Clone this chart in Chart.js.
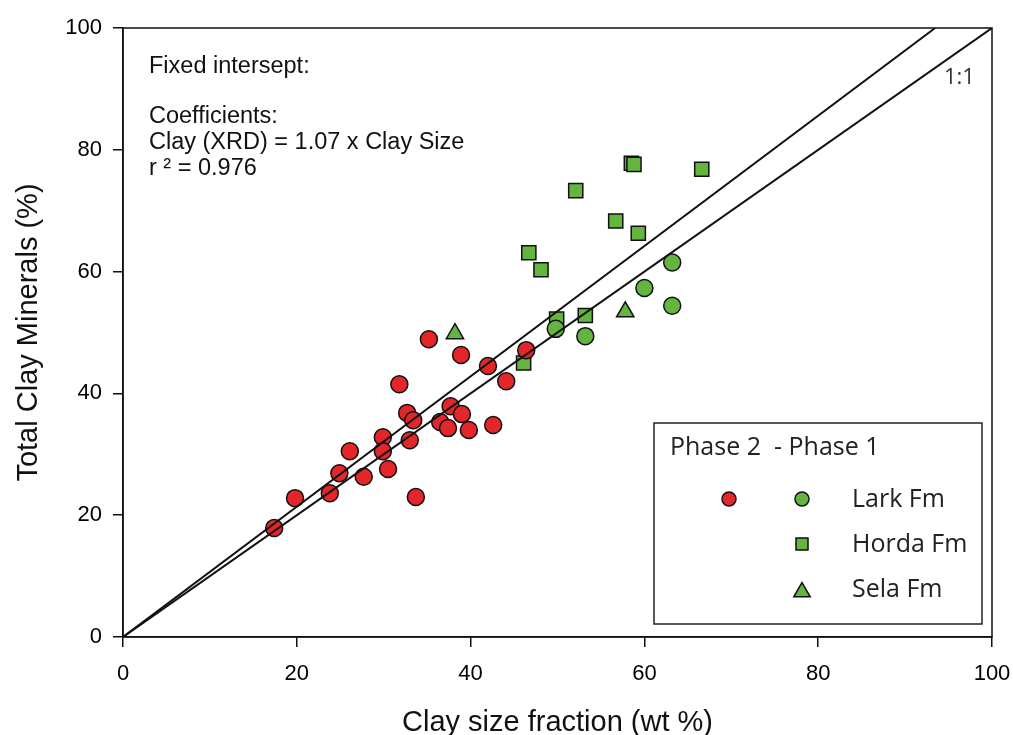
<!DOCTYPE html>
<html>
<head>
<meta charset="utf-8">
<script src="https://cdn.jsdelivr.net/npm/chart.js@4.4.1/dist/chart.umd.min.js"></script>
<style>
  body { margin: 0; background: #fff; }
  #wrap { width: 1013px; height: 735px; }
</style>
</head>
<body>
<div id="wrap"><canvas id="graficoArgila" width="1013" height="735"></canvas></div>
<script>
// Phase 2 (red circles)
const fase2X = [17.4, 19.8, 23.8, 24.9, 26.1, 27.7, 29.9, 29.9, 30.5, 31.8, 32.7, 33.0, 33.4, 33.7, 35.2, 36.5, 37.7, 37.4, 38.9, 39.0, 39.8, 42.0, 42.6, 44.1, 46.4];
const fase2Y = [17.9, 22.8, 23.6, 26.9, 30.5, 26.3, 32.8, 30.5, 27.6, 41.5, 36.8, 32.3, 35.6, 23.0, 48.9, 35.3, 37.9, 34.3, 46.3, 36.6, 34.0, 44.5, 34.8, 42.0, 47.1];
// Phase 1
const larkX = [49.8, 53.2, 60.0, 63.2, 63.2];
const larkY = [50.6, 49.4, 57.3, 61.5, 54.4];
const hordaX = [46.1, 46.7, 48.1, 49.9, 53.2, 52.1, 56.7, 59.3, 58.5, 58.8, 66.6];
const hordaY = [45.0, 63.1, 60.3, 52.2, 52.8, 73.3, 68.3, 66.3, 77.8, 77.6, 76.8];
const selaX = [38.2, 57.8];
const selaY = [49.8, 53.4];

const inclinacao = 1.07;
const ticksEixo = [0, 20, 40, 60, 80, 100];
const textoAjuste = ['Fixed intersept:', '', 'Coefficients:', 'Clay (XRD) = 1.07 x Clay Size', 'r \u00b2 = 0.976'];
const legendaTitulo = 'Phase 2  - Phase 1';
const legendaNomes = ['Lark Fm', 'Horda Fm', 'Sela Fm'];

const VERMELHO = '#e3262a';
const VERDE = '#63b540';

function pontos(xs, ys) {
    return xs.map((x, i) => ({ x: x, y: ys[i] }));
}

const plugExtras = {
    id: 'extras',
    afterDraw(chart) {
        const ctx = chart.ctx;
        const a = chart.chartArea;
        ctx.save();
        ctx.strokeStyle = '#111';
        ctx.lineWidth = 1.5;
        ctx.strokeRect(a.left, a.top, a.right - a.left, a.bottom - a.top);

        // texto do ajuste
        ctx.fillStyle = '#111';
        ctx.font = '23.5px "Liberation Sans", Arial, sans-serif';
        ctx.textBaseline = 'alphabetic';
        ctx.textAlign = 'left';
        const lin = [73, 98, 123, 149, 175];
        textoAjuste.forEach((t, i) => { if (t) ctx.fillText(t, 149, lin[i]); });

        ctx.font = '22px "Open Sans", "Noto Sans", sans-serif';
        ctx.fillStyle = '#333';
        ctx.fillText('1:1', 944, 84);

        // caixa da legenda
        ctx.strokeStyle = '#222';
        ctx.lineWidth = 1.5;
        ctx.strokeRect(654, 423, 328, 201);
        ctx.font = '25px "Open Sans", "Noto Sans", sans-serif';
        ctx.fillStyle = '#222';
        ctx.fillText(legendaTitulo, 670, 455);

        const marcas = [499, 544, 592];
        const bases = [507, 552, 597];
        const estilos = ['circle', 'rect', 'triangle'];
        const raios = [7, 8.5, 9.5];
        ctx.lineWidth = 1.5;
        ctx.strokeStyle = '#111';
        ctx.fillStyle = VERMELHO;
        Chart.helpers.drawPoint(ctx, { pointStyle: 'circle', radius: 7, rotation: 0, borderWidth: 1.5 }, 729, marcas[0]);
        legendaNomes.forEach((nome, i) => {
            ctx.fillStyle = VERDE;
            ctx.strokeStyle = '#111';
            Chart.helpers.drawPoint(ctx, { pointStyle: estilos[i], radius: raios[i], rotation: 0, borderWidth: 1.5 }, 802, marcas[i]);
            ctx.fillStyle = '#222';
            ctx.fillText(nome, 852, bases[i]);
        });
        ctx.restore();
    }
};

const fonteEixo = { family: '"Liberation Sans", Arial, sans-serif', size: 22 };
const fonteTitulo = { family: '"Liberation Sans", Arial, sans-serif', size: 29, lineHeight: 1 };

const grafico = new Chart(document.getElementById('graficoArgila').getContext('2d'), {
    type: 'scatter',
    data: {
        datasets: [
            {
                label: '1:1',
                type: 'line',
                data: [{ x: 0, y: 0 }, { x: 100, y: 100 }],
                borderColor: '#111', borderWidth: 2, pointRadius: 0, order: 0
            },
            {
                label: 'fit',
                type: 'line',
                data: [{ x: 0, y: 0 }, { x: 100 / inclinacao, y: 100 }],
                borderColor: '#111', borderWidth: 2, pointRadius: 0, order: 0
            },
            {
                label: 'Phase 2',
                data: pontos(fase2X, fase2Y),
                pointStyle: 'circle', pointRadius: 8.5,
                backgroundColor: VERMELHO, borderColor: '#111', borderWidth: 1.5, order: 1
            },
            {
                label: 'Lark Fm',
                data: pontos(larkX, larkY),
                pointStyle: 'circle', pointRadius: 8.5,
                backgroundColor: VERDE, borderColor: '#111', borderWidth: 1.5, order: 1
            },
            {
                label: 'Horda Fm',
                data: pontos(hordaX, hordaY),
                pointStyle: 'rect', pointRadius: 10,
                backgroundColor: VERDE, borderColor: '#111', borderWidth: 1.5, order: 1
            },
            {
                label: 'Sela Fm',
                data: pontos(selaX, selaY),
                pointStyle: 'triangle', pointRadius: 10,
                backgroundColor: VERDE, borderColor: '#111', borderWidth: 1.5, order: 1
            }
        ]
    },
    options: {
        responsive: false,
        animation: false,
        layout: { padding: { top: 28, right: 21, left: 0, bottom: 0 } },
        plugins: { legend: { display: false }, tooltip: { enabled: false } },
        scales: {
            x: {
                type: 'linear', min: 0, max: 100,
                afterBuildTicks: s => { s.ticks = ticksEixo.map(v => ({ value: v })); },
                afterFit: s => { s.height = 98; s.paddingLeft = 0; s.paddingRight = 0; },
                grid: { drawOnChartArea: false, tickLength: 10, color: '#111', lineWidth: 1.5 },
                border: { color: '#111', width: 1.5 },
                ticks: { font: fonteEixo, color: '#000', padding: 14, maxRotation: 0 },
                title: { display: true, text: 'Clay size fraction (wt %)', font: fonteTitulo, color: '#111', padding: { top: 0, bottom: -2 } }
            },
            y: {
                type: 'linear', min: 0, max: 100,
                afterBuildTicks: s => { s.ticks = ticksEixo.map(v => ({ value: v })); },
                afterFit: s => { s.width = 123; s.paddingTop = 0; s.paddingBottom = 0; },
                grid: { drawOnChartArea: false, tickLength: 10, color: '#111', lineWidth: 1.5 },
                border: { color: '#111', width: 1.5 },
                ticks: { font: fonteEixo, color: '#000', padding: 11 },
                title: { display: true, text: 'Total Clay Minerals (%)', font: fonteTitulo, color: '#111', padding: { top: 14, bottom: 0 } }
            }
        }
    },
    plugins: [plugExtras]
});
</script>
</body>
</html>
